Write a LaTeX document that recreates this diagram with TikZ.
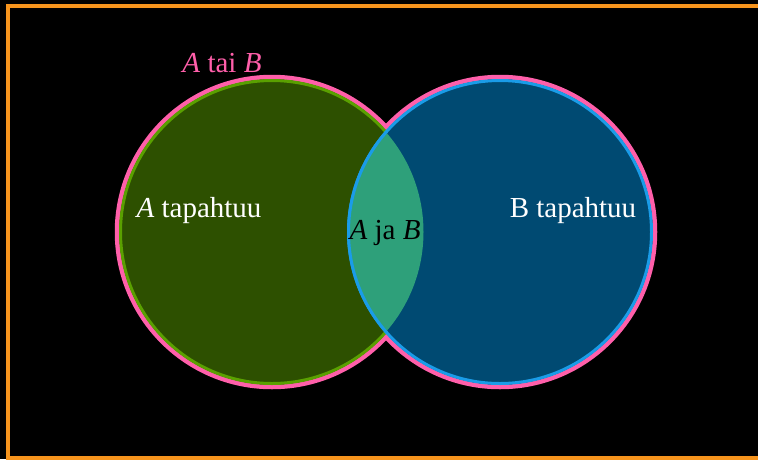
\documentclass[tikz,border=0pt]{standalone}
\usepackage{fontspec}
\setmainfont{Liberation Serif}
\definecolor{frameorange}{HTML}{F7941D}
\definecolor{vpink}{HTML}{FF5FAA}
\definecolor{gfill}{HTML}{2D5000}
\definecolor{gline}{HTML}{5AA000}
\definecolor{bfill}{HTML}{004A72}
\definecolor{bline}{HTML}{1A9CE8}
\definecolor{lensfill}{HTML}{2EA07A}
\begin{document}
\begin{tikzpicture}[x=1pt,y=-1pt,
  lbl/.style={inner sep=0pt, font=\fontsize{29}{34}\selectfont}]
\useasboundingbox (0,0) rectangle (758,459);
\fill[black] (0,0) rectangle (758,459);
\draw[frameorange, line width=4] (8,6) rectangle (775,457.5);
\coordinate (ca) at (272,232);
\coordinate (cb) at (500,232);
% outer "A tai B" outlines
\draw[vpink, line width=4.5] (ca) circle (155);
\draw[vpink, line width=4.5] (cb) circle (155);
% A
\draw[gline, fill=gfill, line width=3] (ca) circle (151.5);
% B
\draw[bline, fill=bfill, line width=3] (cb) circle (151.5);
% intersection
\begin{scope}
  \clip (ca) circle (151.5);
  \fill[lensfill] (cb) circle (151.5);
\end{scope}
\begin{scope}
  \clip (ca) circle (153);
  \draw[bline, line width=3] (cb) circle (151.5);
\end{scope}
\node[lbl, text=vpink] (atai) at (222,63.5) {\textit{A} tai \textit{B}};
\node[lbl, text=white] (atap) at (199,211) {\textit{A} tapahtuu};
\node[lbl, text=white] (btap) at (573,211) {B tapahtuu};
\node[lbl, text=black] (ajab) at (385,233) {\textit{A} ja \textit{B}};
\end{tikzpicture}
\end{document}
